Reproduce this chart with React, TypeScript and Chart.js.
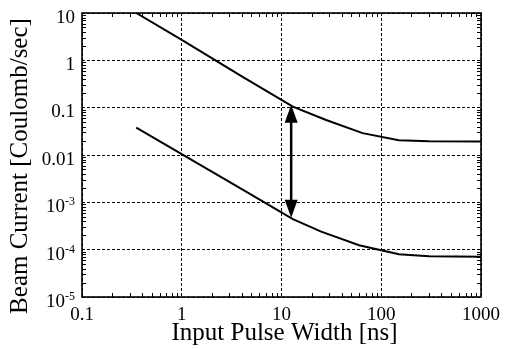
import React, { useEffect, useRef } from 'react';
import { Chart, registerables } from 'chart.js';
Chart.register(...registerables);

// Axis ticks
const xTicks = [0.1, 1, 10, 100, 1000];
const xTickLabels = ['0.1', '1', '10', '100', '1000'];
const yTicks = [1e-5, 1e-4, 1e-3, 0.01, 0.1, 1, 10];
const yTickBase = ['10', '10', '10', '0.01', '0.1', '1', '10'];
const yTickExp = ['-5', '-4', '-3', '', '', '', ''];

// Upper curve
const upperX = [0.35, 1, 4, 13, 28, 65, 150, 300, 1000];
const upperY = [10, 2.7, 0.46, 0.105, 0.055, 0.029, 0.0205, 0.0195, 0.0192];
// Lower curve
const lowerX = [0.35, 1, 4, 13, 25, 60, 150, 300, 1000];
const lowerY = [0.038, 0.0104, 0.0019, 0.00044, 0.00024, 0.000124, 0.00008, 0.000073, 0.000071];

// Double arrow
const arrowX = 12.5;
const arrowTop = 0.115;
const arrowBottom = 0.00047;

const xTitle = 'Input Pulse Width [ns]';
const yTitle = 'Beam Current [Coulomb/sec]';

const FONT = "'Liberation Serif', 'Times New Roman', serif";

const decorPlugin = {
  id: 'decor',
  afterDraw(chart: any) {
    const { ctx, chartArea: a, scales } = chart;
    const x = scales.x;
    const y = scales.y;
    ctx.save();
    ctx.strokeStyle = '#000';
    ctx.fillStyle = '#000';

    // arrow
    const ax = x.getPixelForValue(arrowX);
    const at = y.getPixelForValue(arrowTop);
    const ab = y.getPixelForValue(arrowBottom);
    const hw = 6.5;
    const hl = 18;
    ctx.lineWidth = 2.5;
    ctx.beginPath();
    ctx.moveTo(ax, at + hl - 1);
    ctx.lineTo(ax, ab - hl + 1);
    ctx.stroke();
    ctx.beginPath();
    ctx.moveTo(ax, at);
    ctx.lineTo(ax - hw, at + hl);
    ctx.lineTo(ax + hw, at + hl);
    ctx.closePath();
    ctx.fill();
    ctx.beginPath();
    ctx.moveTo(ax, ab);
    ctx.lineTo(ax - hw, ab - hl);
    ctx.lineTo(ax + hw, ab - hl);
    ctx.closePath();
    ctx.fill();

    // minor ticks (inward, all four sides)
    ctx.lineWidth = 1;
    ctx.beginPath();
    for (let i = 0; i < xTicks.length - 1; i++) {
      for (let m = 2; m <= 9; m++) {
        const px = Math.round(x.getPixelForValue(xTicks[i] * m)) + 0.5;
        ctx.moveTo(px, a.bottom);
        ctx.lineTo(px, a.bottom - 4);
        ctx.moveTo(px, a.top);
        ctx.lineTo(px, a.top + 4);
      }
    }
    for (let i = 0; i < yTicks.length - 1; i++) {
      for (let m = 2; m <= 9; m++) {
        const py = Math.round(y.getPixelForValue(yTicks[i] * m)) + 0.5;
        ctx.moveTo(a.left, py);
        ctx.lineTo(a.left + 4, py);
        ctx.moveTo(a.right, py);
        ctx.lineTo(a.right - 4, py);
      }
    }
    ctx.stroke();

    // frame
    ctx.lineWidth = 1.6;
    ctx.strokeRect(a.left, a.top, a.right - a.left, a.bottom - a.top);

    // y tick labels with superscripts
    const labelRight = a.left - 7;
    for (let i = 0; i < yTicks.length; i++) {
      const py = y.getPixelForValue(yTicks[i]);
      ctx.textBaseline = 'alphabetic';
      ctx.textAlign = 'right';
      if (yTickExp[i]) {
        ctx.font = `12px ${FONT}`;
        const ew = ctx.measureText(yTickExp[i]).width;
        ctx.fillText(yTickExp[i], labelRight, py + 3);
        ctx.font = `19px ${FONT}`;
        ctx.fillText(yTickBase[i], labelRight - ew, py + 10);
      } else {
        ctx.font = `19px ${FONT}`;
        ctx.fillText(yTickBase[i], labelRight, py + 9.5);
      }
    }

    // axis titles
    ctx.font = `25px ${FONT}`;
    ctx.textAlign = 'center';
    ctx.textBaseline = 'alphabetic';
    ctx.fillText(xTitle, (a.left + a.right) / 2 + 3, 340);
    ctx.save();
    ctx.translate(27, (a.top + a.bottom) / 2 + 11);
    ctx.rotate(-Math.PI / 2);
    ctx.fillText(yTitle, 0, 0);
    ctx.restore();

    ctx.restore();
  },
};

export default function App() {
  const ref = useRef<HTMLCanvasElement | null>(null);
  useEffect(() => {
    document.body.style.margin = '0';
    const canvas = ref.current;
    if (!canvas) return;
    const chart = new Chart(canvas, {
      type: 'line',
      data: {
        datasets: [
          {
            data: upperX.map((v, i) => ({ x: v, y: upperY[i] })),
            borderColor: '#000',
            borderWidth: 2,
            pointRadius: 0,
            tension: 0,
            fill: false,
          },
          {
            data: lowerX.map((v, i) => ({ x: v, y: lowerY[i] })),
            borderColor: '#000',
            borderWidth: 2,
            pointRadius: 0,
            tension: 0,
            fill: false,
          },
        ],
      },
      options: {
        animation: false,
        responsive: false,
        maintainAspectRatio: false,
        devicePixelRatio: 1,
        layout: { padding: { left: 0, right: 21, top: 13, bottom: 0 } },
        plugins: { legend: { display: false }, tooltip: { enabled: false }, title: { display: false } },
        scales: {
          x: {
            type: 'logarithmic',
            min: 0.1,
            max: 1000,
            afterBuildTicks: (s: any) => {
              s.ticks = xTicks.map((v) => ({ value: v }));
            },
            afterFit: (s: any) => {
              s.height = 52;
            },
            grid: { color: '#000', lineWidth: 1, drawTicks: false },
            border: { display: false, dash: [3, 2] },
            ticks: {
              color: '#000',
              padding: 7,
              maxRotation: 0,
              autoSkip: false,
              font: { family: FONT, size: 19 },
              callback: (_v: any, i: number) => xTickLabels[i],
            },
          },
          y: {
            type: 'logarithmic',
            min: 1e-5,
            max: 10,
            afterBuildTicks: (s: any) => {
              s.ticks = yTicks.map((v) => ({ value: v }));
            },
            afterFit: (s: any) => {
              s.width = 82;
            },
            grid: { color: '#000', lineWidth: 1, drawTicks: false },
            border: { display: false, dash: [3, 2] },
            ticks: { display: false },
          },
        },
      },
      plugins: [decorPlugin],
    } as any);
    return () => chart.destroy();
  }, []);
  return (
    <div style={{ position: 'fixed', left: 0, top: 0, width: 507, height: 349, background: '#fff' }}>
      <canvas ref={ref} width={507} height={349} style={{ display: 'block' }} />
    </div>
  );
}
